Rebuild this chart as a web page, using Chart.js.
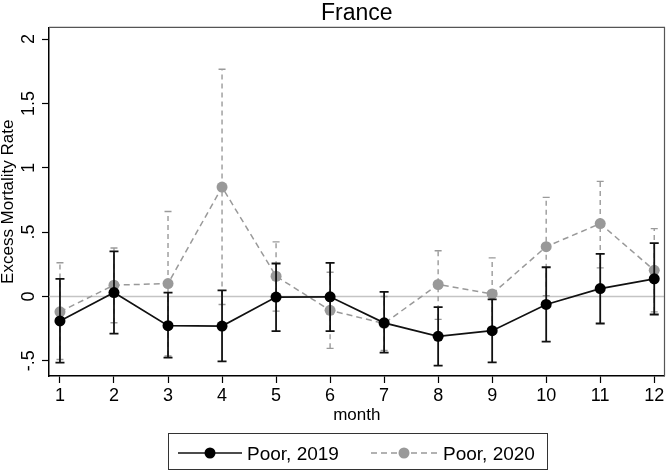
<!DOCTYPE html>
<html>
<head>
<meta charset="utf-8">
<script src="https://cdn.jsdelivr.net/npm/chart.js@4.4.1/dist/chart.umd.min.js"></script>
<style>
  html, body { margin: 0; padding: 0; background: #fff; }
  canvas { display: block; }
</style>
</head>
<body>
<canvas id="chart" width="670" height="471"></canvas>
<script>
// Data
const months = [1, 2, 3, 4, 5, 6, 7, 8, 9, 10, 11, 12];
const poor2019 = [-0.19, 0.03, -0.227, -0.23, -0.005, -0.003, -0.205, -0.31, -0.266, -0.062, 0.061, 0.137];
const poor2019Low = [-0.514, -0.289, -0.475, -0.504, -0.269, -0.269, -0.437, -0.537, -0.512, -0.351, -0.21, -0.14];
const poor2019High = [0.137, 0.351, 0.029, 0.047, 0.256, 0.261, 0.035, -0.083, -0.023, 0.227, 0.331, 0.415];
const poor2020 = [-0.119, 0.088, 0.1, 0.85, 0.157, -0.108, -0.21, 0.093, 0.02, 0.387, 0.566, 0.203];
const poor2020Low = [-0.49, -0.204, -0.463, -0.062, -0.114, -0.403, -0.42, -0.178, -0.26, 0.005, 0.222, -0.12];
const poor2020High = [0.262, 0.376, 0.66, 1.765, 0.424, 0.188, 0.0, 0.355, 0.3, 0.77, 0.894, 0.527];
const yTickValues = [-0.5, 0, 0.5, 1, 1.5, 2];
const yTickLabels = ['-.5', '0', '.5', '1', '1.5', '2'];
const seriesNames = ['Poor, 2019', 'Poor, 2020'];

const FONT = '"Liberation Sans", Arial, Helvetica, sans-serif';

function points(vals) {
    return months.map((m, i) => ({ x: m, y: vals[i] }));
}

// error bars drawn just before each dataset's line
const errorBars = {
    id: 'errorBars',
    beforeDatasetDraw(chart, args) {
        const ds = chart.data.datasets[args.index];
        const xs = chart.scales.x, ys = chart.scales.y;
        const ctx = chart.ctx;
        ctx.save();
        ctx.strokeStyle = ds.errColor;
        ctx.lineWidth = ds.errWidth;
        months.forEach((m, i) => {
            const x = xs.getPixelForValue(m);
            const y1 = ys.getPixelForValue(ds.errLow[i]);
            const y2 = ys.getPixelForValue(ds.errHigh[i]);
            ctx.setLineDash(ds.errDash);
            ctx.beginPath();
            ctx.moveTo(x, y1);
            ctx.lineTo(x, y2);
            ctx.stroke();
            ctx.setLineDash([]);
            ctx.beginPath();
            ctx.moveTo(x - ds.capHalf, y1);
            ctx.lineTo(x + ds.capHalf, y1);
            ctx.moveTo(x - ds.capHalf, y2);
            ctx.lineTo(x + ds.capHalf, y2);
            ctx.stroke();
        });
        ctx.restore();
    }
};

// zero line, frame, rotated y labels and boxed legend
const stataBits = {
    id: 'stataBits',
    beforeDatasetsDraw(chart) {
        const { ctx, chartArea: a } = chart;
        const y0 = chart.scales.y.getPixelForValue(0);
        ctx.save();
        ctx.strokeStyle = '#c4c4c4';
        ctx.lineWidth = 1.5;
        ctx.beginPath();
        ctx.moveTo(a.left, y0);
        ctx.lineTo(a.right, y0);
        ctx.stroke();
        ctx.restore();
    },
    afterDraw(chart) {
        const { ctx, chartArea: a } = chart;
        ctx.save();
        // top and right edge of plot region
        ctx.strokeStyle = '#555';
        ctx.lineWidth = 1.2;
        ctx.beginPath();
        ctx.moveTo(a.left, a.top);
        ctx.lineTo(a.right, a.top);
        ctx.lineTo(a.right, a.bottom);
        ctx.stroke();

        // y tick labels, rotated like Stata
        const ys = chart.scales.y;
        ctx.fillStyle = '#000';
        ctx.font = '18px ' + FONT;
        ctx.textAlign = 'center';
        ctx.textBaseline = 'alphabetic';
        yTickValues.forEach((v, i) => {
            const y = ys.getPixelForValue(v);
            ctx.save();
            ctx.translate(34, y);
            ctx.rotate(-Math.PI / 2);
            ctx.fillText(yTickLabels[i], 0, 0);
            ctx.restore();
        });

        // legend
        ctx.strokeStyle = '#333';
        ctx.lineWidth = 1;
        ctx.strokeRect(168.5, 433.5, 379, 36);
        const items = [
            { x1: 178, x2: 242, tx: 247 },
            { x1: 371, x2: 437, tx: 443 }
        ];
        items.forEach((it, i) => {
            const ds = chart.data.datasets[i];
            const ly = 453;
            ctx.strokeStyle = ds.borderColor;
            ctx.lineWidth = ds.borderWidth;
            ctx.setLineDash(ds.borderDash || []);
            ctx.beginPath();
            ctx.moveTo(it.x1, ly);
            ctx.lineTo(it.x2, ly);
            ctx.stroke();
            ctx.setLineDash([]);
            ctx.fillStyle = ds.pointBackgroundColor;
            ctx.beginPath();
            ctx.arc((it.x1 + it.x2) / 2, ly, ds.pointRadius, 0, Math.PI * 2);
            ctx.fill();
            ctx.fillStyle = '#000';
            ctx.font = '19px ' + FONT;
            ctx.textAlign = 'left';
            ctx.textBaseline = 'alphabetic';
            ctx.fillText(seriesNames[i], it.tx, 460);
        });
        ctx.restore();
    }
};

const ctx = document.getElementById('chart').getContext('2d');
new Chart(ctx, {
    type: 'line',
    data: {
        datasets: [
            {
                label: seriesNames[0],
                data: points(poor2019),
                borderColor: '#111',
                borderWidth: 1.7,
                pointRadius: 5.5,
                pointBackgroundColor: '#000',
                pointBorderWidth: 0,
                errLow: poor2019Low,
                errHigh: poor2019High,
                errColor: '#111',
                errWidth: 1.8,
                errDash: [],
                capHalf: 4.5
            },
            {
                label: seriesNames[1],
                data: points(poor2020),
                borderColor: '#999',
                borderWidth: 1.5,
                borderDash: [6, 4],
                pointRadius: 5.5,
                pointBackgroundColor: '#999',
                pointBorderWidth: 0,
                errLow: poor2020Low,
                errHigh: poor2020High,
                errColor: '#9a9a9a',
                errWidth: 1.4,
                errDash: [5, 4],
                capHalf: 3.5
            }
        ]
    },
    options: {
        responsive: false,
        animation: false,
        layout: { padding: { left: 0, right: 3, top: 0, bottom: 40 } },
        plugins: {
            legend: { display: false },
            tooltip: { enabled: false },
            title: {
                display: true,
                fullSize: false,
                text: 'France',
                color: '#000',
                font: { family: FONT, size: 23, weight: 'normal', lineHeight: 1.15 },
                padding: { top: 0, bottom: 1 }
            }
        },
        scales: {
            x: {
                type: 'linear',
                min: 0.797,
                max: 12.19,
                afterBuildTicks: s => { s.ticks = months.map(v => ({ value: v })); },
                afterFit: s => { s.height = 55; },
                grid: { display: true, drawOnChartArea: false, drawTicks: true, tickLength: 7, color: '#000', tickWidth: 1.2 },
                border: { display: true, color: '#000', width: 1.5 },
                ticks: { color: '#000', font: { family: FONT, size: 18 }, padding: 2, maxRotation: 0, autoSkip: false },
                title: {
                    display: true,
                    text: 'month',
                    color: '#000',
                    font: { family: FONT, size: 17, lineHeight: 1.2 },
                    padding: { top: 0, bottom: 5 }
                }
            },
            y: {
                type: 'linear',
                min: -0.618,
                max: 2.09,
                afterBuildTicks: s => { s.ticks = yTickValues.map(v => ({ value: v })); },
                afterFit: s => { s.width = 49; },
                grid: { display: true, drawOnChartArea: false, drawTicks: true, tickLength: 7, color: '#000', tickWidth: 1.2 },
                border: { display: true, color: '#000', width: 1.5 },
                ticks: { display: false },
                title: {
                    display: true,
                    text: 'Excess Mortality Rate',
                    color: '#000',
                    font: { family: FONT, size: 17, lineHeight: 1 },
                    padding: { top: 0, bottom: 0 }
                }
            }
        }
    },
    plugins: [errorBars, stataBits]
});
</script>
</body>
</html>
